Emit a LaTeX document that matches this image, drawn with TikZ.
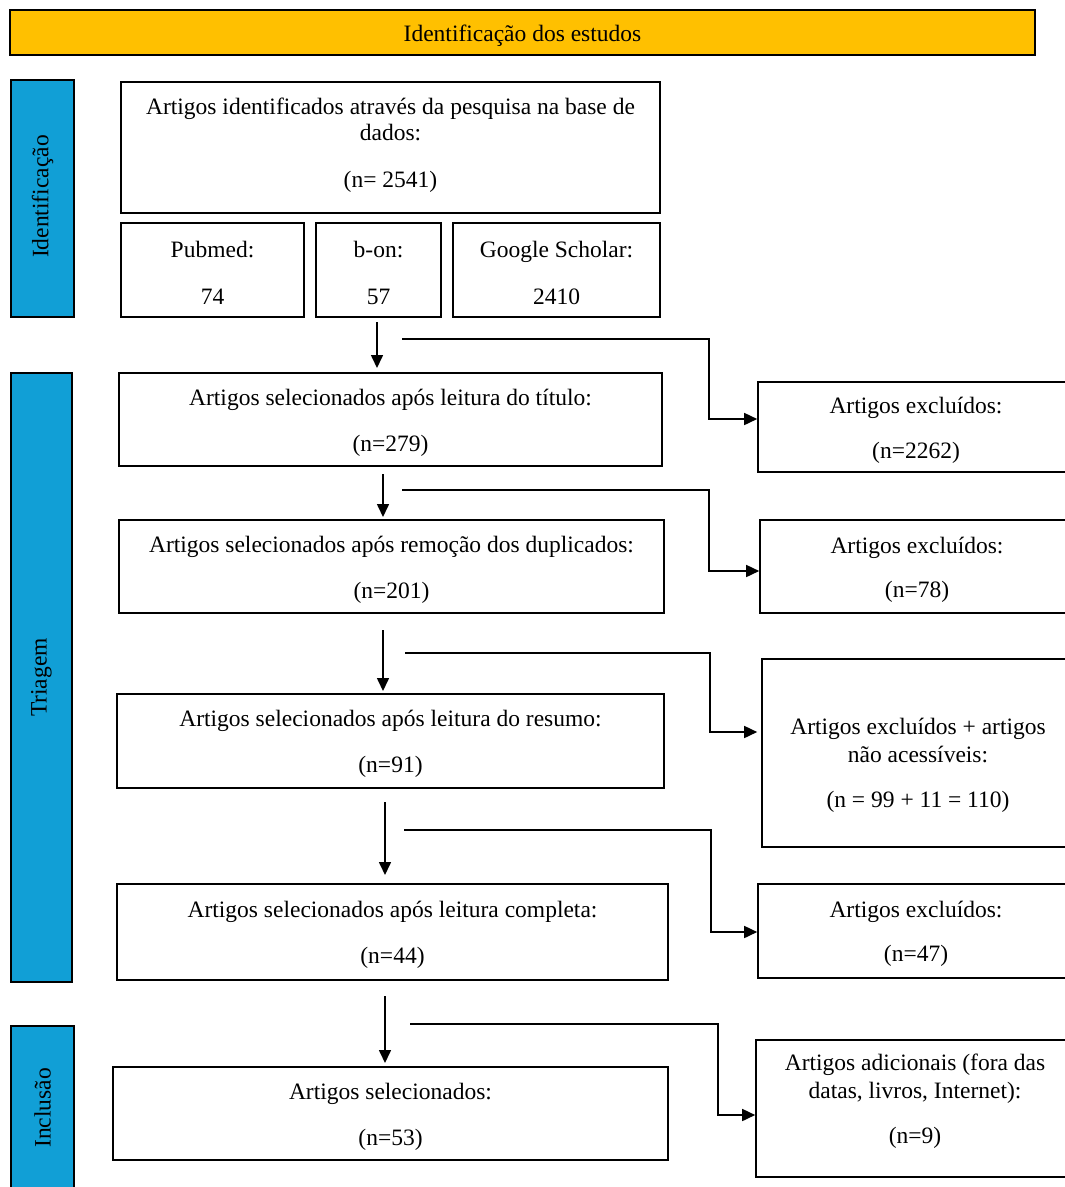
\documentclass[tikz,border=0pt]{standalone}
\usepackage{fontspec}
\setmainfont{Liberation Serif}
\usetikzlibrary{arrows.meta}
\definecolor{gold}{RGB}{255,192,0}
\definecolor{sideblue}{RGB}{17,159,214}
\tikzset{
  boxsty/.style={draw=black, line width=1.6pt, inner sep=0pt, fill=white},
  txt/.style={align=center, inner sep=0pt, font=\rmfamily\fontsize{23.5}{26}\selectfont},
  arr/.style={line width=1.6pt, -{Triangle[length=13pt,width=12pt]}},
}
% name, left, top, right, bottom, yshift, fill, text
\newcommand{\mkbox}[8]{%
  \node[boxsty, fill=#7, minimum width={#4pt-#2pt}, minimum height={#5pt-#3pt}]
    (#1) at ({(#2+#4)/2},{(#3+#5)/2}) {};
  \node[txt] (#1t) at ([yshift=#6pt-3pt]#1.center) {#8};
}
\begin{document}
\begin{tikzpicture}[x=1pt,y=-1pt]
\useasboundingbox (0,0) rectangle (1065,1187);
% banner
\mkbox{ban}{10}{10}{1035}{55}{0}{gold}{Identificação dos estudos}
% side bars
\mkbox{sid}{11}{80}{74}{317}{0}{sideblue}{}
\node[txt, rotate=90] (sidt2) at ([yshift=2pt]sid.center) {Identificação};
\mkbox{stri}{11}{373}{72}{982}{0}{sideblue}{}
\node[txt, rotate=90] (strit2) at (stri.center) {Triagem};
\mkbox{sinc}{11}{1026}{74}{1190}{0}{sideblue}{}
\node[txt, rotate=90] (sinct2) at ([yshift=0pt]sinc.center) {Inclusão};
% identification boxes
\mkbox{b1}{121}{82}{660}{213}{5}{white}{Artigos identificados através da pesquisa na base de\\dados:\\[21pt](n= 2541)}
\mkbox{pub}{121}{223}{304}{317}{0}{white}{Pubmed:\\[21pt]74}
\mkbox{bon}{316}{223}{441}{317}{0}{white}{b-on:\\[21pt]57}
\mkbox{gs}{453}{223}{660}{317}{0}{white}{Google Scholar:\\[21pt]2410}
% main column
\mkbox{t1}{119}{373}{662}{466}{0}{white}{Artigos selecionados após leitura do título:\\[20pt](n=279)}
\mkbox{t2}{119}{520}{664}{613}{0}{white}{Artigos selecionados após remoção dos duplicados:\\[20pt](n=201)}
\mkbox{t3}{117}{694}{664}{788}{0}{white}{Artigos selecionados após leitura do resumo:\\[20pt](n=91)}
\mkbox{t4}{117}{884}{668}{980}{0}{white}{Artigos selecionados após leitura completa:\\[20pt](n=44)}
\mkbox{t5}{113}{1067}{668}{1160}{0}{white}{Artigos selecionados:\\[20pt](n=53)}
% right column
\mkbox{e1}{758}{382}{1074}{472}{0}{white}{Artigos excluídos:\\[19pt](n=2262)}
\mkbox{e2}{760}{520}{1074}{613}{0}{white}{Artigos excluídos:\\[18pt](n=78)}
\mkbox{e3}{762}{659}{1074}{847}{-9.5}{white}{Artigos excluídos + artigos\\[2pt]não acessíveis:\\[19pt](n = 99 + 11 = 110)}
\mkbox{e4}{758}{884}{1074}{978}{0}{white}{Artigos excluídos:\\[18pt](n=47)}
\mkbox{e5}{756}{1040}{1074}{1177}{10}{white}{Artigos adicionais (fora das\\[2pt]datas, livros, Internet):\\[19pt](n=9)}
% vertical arrows
\coordinate (v1s) at (377,322); \coordinate (v1e) at (377,368);
\coordinate (v2s) at (383,474); \coordinate (v2e) at (383,517);
\coordinate (v3s) at (383,630); \coordinate (v3e) at (383,691);
\coordinate (v4s) at (385,802); \coordinate (v4e) at (385,875);
\coordinate (v5s) at (385,996); \coordinate (v5e) at (385,1063);
\draw[arr] (v1s) -- (v1e);
\draw[arr] (v2s) -- (v2e);
\draw[arr] (v3s) -- (v3e);
\draw[arr] (v4s) -- (v4e);
\draw[arr] (v5s) -- (v5e);
% branch arrows
\coordinate (h1s) at (402,339); \coordinate (h1k) at (709,419);
\coordinate (h2s) at (402,490); \coordinate (h2k) at (709,571);
\coordinate (h3s) at (405,653); \coordinate (h3k) at (710,732);
\coordinate (h4s) at (404,830); \coordinate (h4k) at (711,932);
\coordinate (h5s) at (410,1024); \coordinate (h5k) at (718,1115);
\draw[arr] (h1s) -| (h1k) -- (h1k -| e1.west);
\draw[arr] (h2s) -| (h2k) -- (h2k -| e2.west);
\draw[arr, shorten >=4pt] (h3s) -| (h3k) -- (h3k -| e3.west);
\draw[arr] (h4s) -| (h4k) -- (h4k -| e4.west);
\draw[arr] (h5s) -| (h5k) -- (h5k -| e5.west);
\end{tikzpicture}
\end{document}
